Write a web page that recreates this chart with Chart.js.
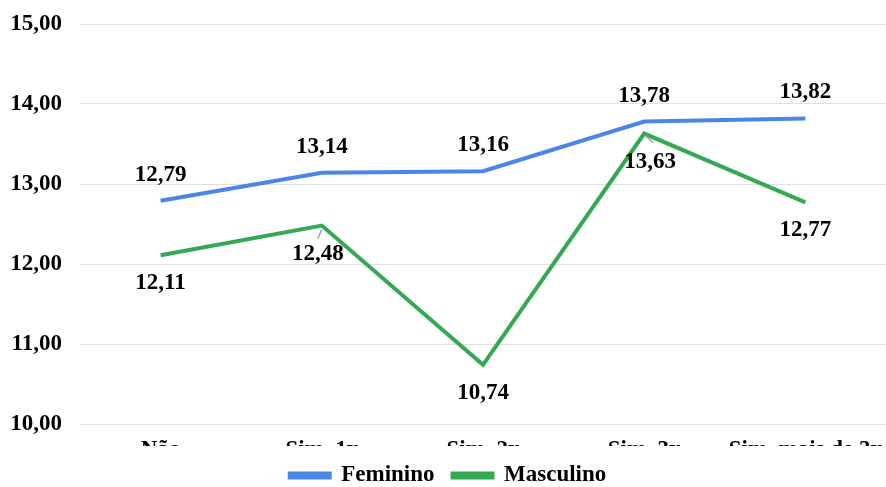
<!DOCTYPE html>
<html>
<head>
<meta charset="utf-8">
<script src="https://cdn.jsdelivr.net/npm/chart.js@4/dist/chart.umd.min.js"></script>
<style>
  html, body { margin: 0; padding: 0; background: #fff; }
  #wrap { width: 886px; height: 487px; }
</style>
</head>
<body>
<div id="wrap"><canvas id="c" width="886" height="487"></canvas></div>
<script>
const categories = ['Não', 'Sim, 1x', 'Sim, 2x', 'Sim, 3x', 'Sim, mais de 3x'];
const feminino = [12.79, 13.14, 13.16, 13.78, 13.82];
const masculino = [12.11, 12.48, 10.74, 13.63, 12.77];
const yTicks = [10, 11, 12, 13, 14, 15];

const FONT = '"Liberation Serif", "Times New Roman", serif';
const FS = 23;
const fmt = v => v.toFixed(2).replace('.', ',');

// Value labels: Feminino above its points, Masculino below (with short leader ticks)
const valueLabels = {
  id: 'valueLabels',
  afterDatasetsDraw(chart) {
    const ctx = chart.ctx;
    ctx.save();
    ctx.font = 'bold ' + FS + 'px ' + FONT;
    ctx.fillStyle = '#000';
    ctx.textAlign = 'center';
    ctx.textBaseline = 'middle';
    chart.data.datasets.forEach((ds, di) => {
      const meta = chart.getDatasetMeta(di);
      meta.data.forEach((pt, i) => {
        const v = ds.data[i];
        let dx = 0, dy;
        if (di === 0) {
          dy = -26;
        } else {
          dy = 28;
          if (i === 1) dx = -4;
          if (i === 3) dx = 6;
        }
        if (di === 1 && (i === 1 || i === 3)) {
          ctx.strokeStyle = '#a6a6a6';
          ctx.lineWidth = 1.5;
          ctx.beginPath();
          if (i === 1) { ctx.moveTo(pt.x, pt.y + 4); ctx.lineTo(pt.x - 4, pt.y + 13); }
          else { ctx.moveTo(pt.x + 1, pt.y + 2); ctx.lineTo(pt.x + 9, pt.y + 9); }
          ctx.stroke();
        }
        ctx.fillText(fmt(v), pt.x + dx, pt.y + dy);
      });
    });
    ctx.restore();
  }
};

new Chart(document.getElementById('c'), {
  type: 'line',
  data: {
    labels: categories,
    datasets: [
      { label: 'Feminino', data: feminino, borderColor: '#4a86e8', backgroundColor: '#4a86e8',
        borderWidth: 4, pointRadius: 0, tension: 0 },
      { label: 'Masculino', data: masculino, borderColor: '#34a853', backgroundColor: '#34a853',
        borderWidth: 4, pointRadius: 0, tension: 0 }
    ]
  },
  options: {
    responsive: false,
    animation: false,
    layout: { padding: { top: 24, right: 0, left: 10, bottom: -10 } },
    scales: {
      x: {
        offset: true,
        grid: { display: false, drawTicks: false },
        border: { display: false },
        ticks: { color: '#000', font: { family: FONT, size: FS, weight: 'bold' }, padding: 12,
                 maxRotation: 0, minRotation: 0, autoSkip: false },
        afterFit: axis => { axis.height = 22; axis.paddingLeft = 0; axis.paddingRight = 0; }
      },
      y: {
        min: 10, max: 15,
        afterBuildTicks: axis => { axis.ticks = yTicks.map(v => ({ value: v })); },
        grid: { color: '#e0e0e0', lineWidth: 1, drawTicks: false },
        border: { display: false },
        ticks: { color: '#000', font: { family: FONT, size: FS, weight: 'bold' }, padding: 18,
                 callback: v => fmt(v) },
        afterFit: axis => { axis.width = 70; axis.paddingTop = 0; axis.paddingBottom = 0; }
      }
    },
    plugins: {
      legend: {
        position: 'bottom',
        labels: { color: '#000', font: { family: FONT, size: FS, weight: 'bold' },
                  boxWidth: 40, boxHeight: 4, padding: 18 }
      },
      tooltip: { enabled: false }
    }
  },
  plugins: [valueLabels]
});
</script>
</body>
</html>
